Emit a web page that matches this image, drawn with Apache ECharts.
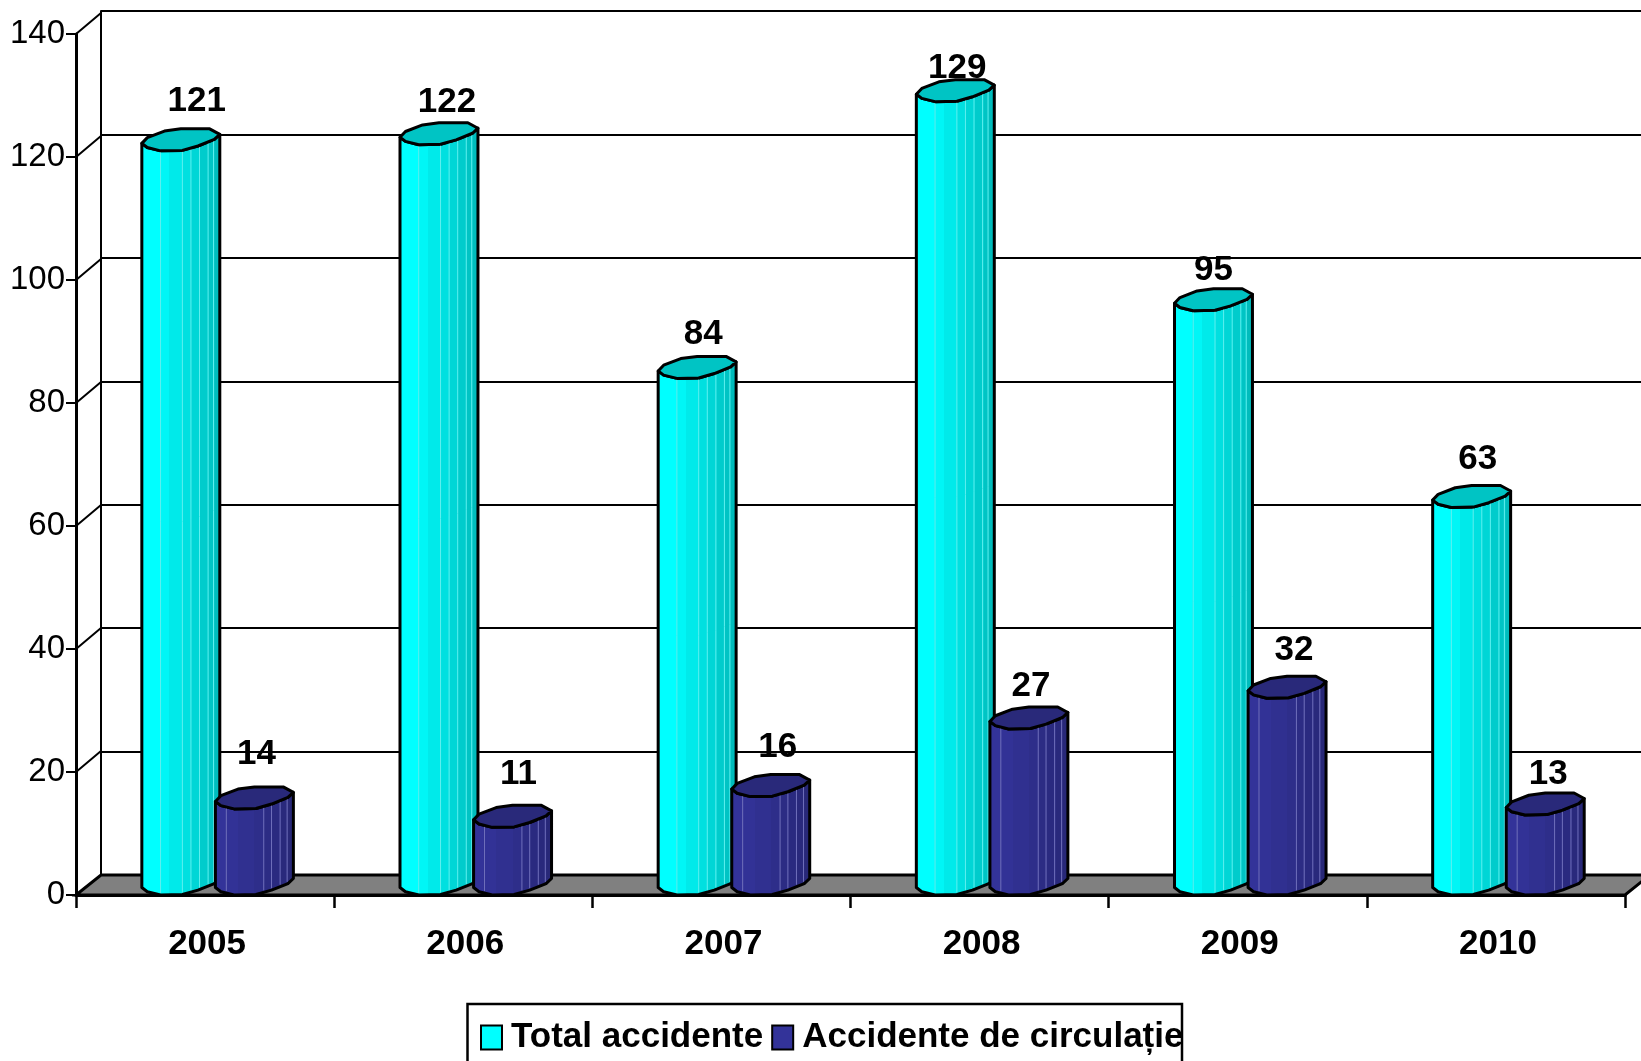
<!DOCTYPE html>
<html>
<head>
<meta charset="utf-8">
<style>html,body{margin:0;padding:0;background:#fff;overflow:hidden}#c{width:1641px;height:1061px}</style>
<script src="https://cdn.jsdelivr.net/npm/echarts@6/dist/echarts.min.js"></script>
</head>
<body>
<div id="c"></div>
<script>
const years = ['2005','2006','2007','2008','2009','2010'];
const totalAccidente = [121,122,84,129,95,63];
const accidenteCirculatie = [14,11,16,27,32,13];
const yTicks = [0,20,40,60,80,100,120,140];
const nameTotal = 'Total accidente';
const nameCirc = 'Accidente de circulație';

// data-label nudges relative to the bar top, px
const totalLabelNudge = [[16,-50],[8,-42],[6,-44],[2,-33],[0,-40],[6,-48]];
const circLabelNudge = [[2,-55],[6,-53],[7,-49],[2,-43],[7,-48],[3,-41]];

const DEPTH_X = 25, FACE_H = 22;
const FONT = '"Liberation Sans", Arial, sans-serif';
const frontArc = [[0,.66],[.07,.85],[.24,1],[.52,.98],[.72,.78],[.93,.48],[1,.25]];
const backArc = [[.87,0],[.5,0],[.29,.1],[.07,.4]];

function arcV(u){
  for(let i=1;i<frontArc.length;i++){
    const a=frontArc[i-1],b=frontArc[i];
    if(u<=b[0]) return a[1]+(b[1]-a[1])*(u-a[0])/(b[0]-a[0]);
  }
  return .25;
}
function stripes(cols,bounds){
  const stops=[];
  cols.forEach((c,i)=>{stops.push({offset:bounds[i],color:c});stops.push({offset:bounds[i+1],color:c});});
  return {type:'linear',x:0,y:0,x2:1,y2:0,colorStops:stops};
}
const cyanFill = stripes(['#00FFFF','#00F6F6','#00EAEA','#00E0E0','#00D6D6','#00CCCC','#00C4C4','#00BCBC'],[0,.24,.36,.52,.63,.74,.85,.92,1]);
const navyFill = stripes(['#333399','#323296','#303090','#2E2E8A','#2C2C84','#2A2A80','#29297C','#282878'],[0,.14,.3,.5,.62,.72,.83,.92,1]);

function cylinder(values,nudges,startFrac,fill,topColor,lineColor,lineUs){
  return function(params,api){
    const i=api.value(0), v=api.value(1);
    const c=api.coord([i,v]), base=api.coord([i,0])[1];
    const band=api.size([1,0])[0];
    const w=band*0.302, x0=c[0]+band*startFrac, yv=c[1];
    const pt=(p,yb)=>[x0+p[0]*w, yb-(1-p[1])*FACE_H];
    const body=[];
    frontArc.forEach(p=>body.push(pt(p,yv)));
    for(let k=frontArc.length-1;k>=0;k--) body.push(pt(frontArc[k],base));
    const top=frontArc.map(p=>pt(p,yv)).concat(backArc.map(p=>pt(p,yv)));
    const children=[{type:'polygon',shape:{points:body},style:{fill:fill,stroke:'#000',lineWidth:3,lineJoin:'round'}}];
    lineUs.forEach(u=>{
      const vv=arcV(u), xx=x0+u*w, dy=(1-vv)*FACE_H;
      children.push({type:'line',shape:{x1:xx,y1:yv-dy,x2:xx,y2:base-dy-2},style:{stroke:lineColor,lineWidth:1}});
    });
    children.push({type:'polygon',shape:{points:top},style:{fill:topColor,stroke:'#000',lineWidth:3,lineJoin:'round'}});
    const n=nudges[i];
    children.push({type:'text',z2:10,style:{text:String(v),x:x0+w/2+n[0],y:yv+n[1],fill:'#000',
      font:'bold 35px '+FONT,textAlign:'center',textVerticalAlign:'middle'}});
    return {type:'group',children:children};
  };
}

const chart=echarts.init(document.getElementById('c'),null,{renderer:'canvas'});
chart.setOption({
  animation:false,
  backgroundColor:'#fff',
  grid:[
    {left:76,top:34,width:1549,height:861,containLabel:false},
    {left:76+DEPTH_X,top:11,width:1549,height:864,containLabel:false}
  ],
  xAxis:[
    {type:'category',gridIndex:0,data:years,z:2,
      axisLine:{lineStyle:{color:'#000',width:3}},
      axisTick:{show:true,alignWithLabel:false,length:13,lineStyle:{color:'#000',width:2.5}},
      axisLabel:{color:'#000',fontFamily:FONT,fontWeight:'bold',fontSize:35,margin:32,interval:0,padding:[0,0,0,4]},
      splitLine:{show:false}},
    {type:'category',gridIndex:1,data:years,show:false}
  ],
  yAxis:[
    {type:'value',gridIndex:0,min:0,max:140,interval:20,z:2,
      axisLine:{show:true,lineStyle:{color:'#000',width:3}},
      axisTick:{show:true,length:10,lineStyle:{color:'#000',width:2}},
      axisLabel:{color:'#000',fontFamily:FONT,fontSize:33,margin:11,padding:[3,0,0,0]},
      splitLine:{show:false}},
    {type:'value',gridIndex:1,min:0,max:140,interval:20,
      axisLine:{show:true,lineStyle:{color:'#000',width:2}},
      axisTick:{show:false},axisLabel:{show:false},
      splitLine:{show:true,lineStyle:{color:'#000',width:2}}}
  ],
  legend:{
    show:true,left:480,top:1020,padding:0,itemWidth:21,itemHeight:24,itemGap:8,icon:'rect',
    data:[nameTotal,nameCirc],selectedMode:false,
    itemStyle:{borderColor:'#000',borderWidth:2},
    textStyle:{color:'#000',fontFamily:FONT,fontWeight:'bold',fontSize:35,padding:[0,0,0,4]}
  },
  graphic:[{type:'rect',z:-1,shape:{x:467.5,y:1004,width:714.5,height:70},style:{fill:'#fff',stroke:'#000',lineWidth:2.5}}],
  series:[
    {type:'custom',name:'floor',xAxisIndex:0,yAxisIndex:0,z:1,silent:true,clip:false,
      data:[[0,0]],
      renderItem:function(params,api){
        const s=params.coordSys, xl=s.x, xr=s.x+s.width, yb=s.y+s.height;
        return {type:'polygon',shape:{points:[[xl,yb],[xl+DEPTH_X,yb-20],[xr+DEPTH_X,yb-20],[xr,yb]]},
          style:{fill:'#808080',stroke:'#000',lineWidth:3}};
      }},
    {type:'custom',name:'wallEdges',xAxisIndex:0,yAxisIndex:0,z:1,silent:true,clip:false,
      data:yTicks.slice(1).map(v=>[0,v]),
      renderItem:function(params,api){
        const s=params.coordSys, y=api.coord([0,api.value(1)])[1];
        return {type:'line',shape:{x1:s.x,y1:y,x2:s.x+DEPTH_X,y2:y-21},style:{stroke:'#000',lineWidth:2}};
      }},
    {type:'custom',name:nameTotal,xAxisIndex:0,yAxisIndex:0,z:3,silent:true,clip:false,
      itemStyle:{color:'#00FFFF'},
      data:totalAccidente.map((v,i)=>[i,v]),
      renderItem:cylinder(totalAccidente,totalLabelNudge,-0.245,cyanFill,'#00C4C4','#5FEFEF',[.24,.52,.63,.74,.85,.92])},
    {type:'custom',name:nameCirc,xAxisIndex:0,yAxisIndex:0,z:4,silent:true,clip:false,
      itemStyle:{color:'#333399'},
      data:accidenteCirculatie.map((v,i)=>[i,v]),
      renderItem:cylinder(accidenteCirculatie,circLabelNudge,0.04,navyFill,'#29297A','#7070BB',[.14,.62,.72,.83,.92])}
  ]
});
</script>
</body>
</html>
